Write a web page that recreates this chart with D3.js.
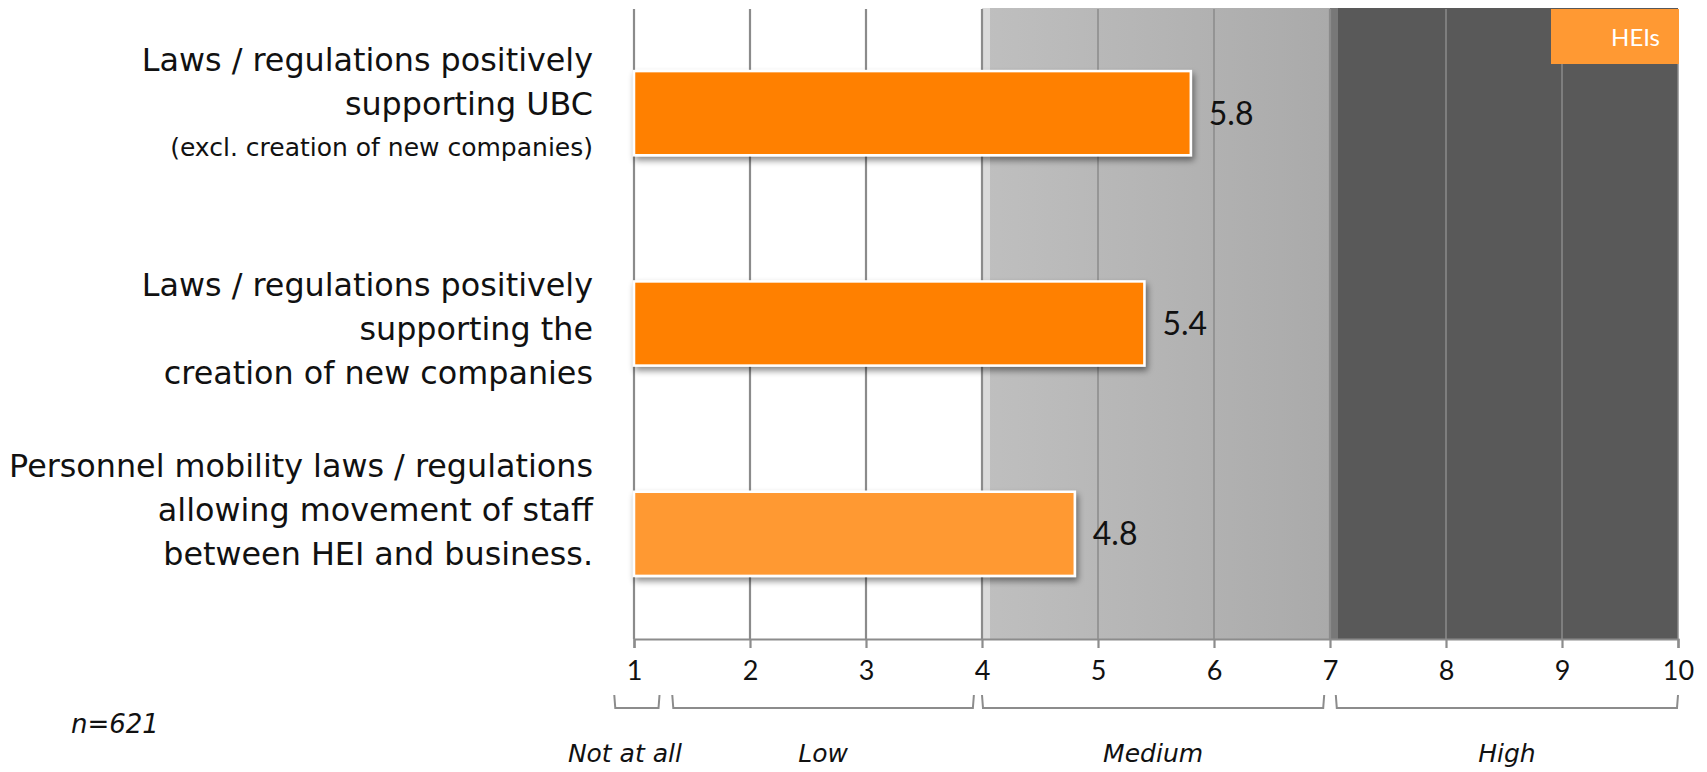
<!DOCTYPE html>
<html>
<head>
<meta charset="utf-8">
<script src="https://cdn.jsdelivr.net/npm/d3@7"></script>
<style>
  html, body { margin: 0; padding: 0; background: #fff; }
  svg { display: block; font-family: "DejaVu Sans", Lato, sans-serif; }
</style>
</head>
<body>
<svg id="chart" width="1707" height="772"></svg>
<script>
// ---- data ----
const categories = [
  "Laws / regulations positively supporting UBC (excl. creation of new companies)",
  "Laws / regulations positively supporting the creation of new companies",
  "Personnel mobility laws / regulations allowing movement of staff between HEI and business."
];
const labelLines = [
  ["Laws / regulations positively", "supporting UBC", "(excl. creation of new companies)"],
  ["Laws / regulations positively", "supporting the", "creation of new companies"],
  ["Personnel mobility laws / regulations", "allowing movement of staff", "between HEI and business."]
];
const values = [5.8, 5.4, 4.8];
const seriesName = "HEIs";
const tickValues = [1, 2, 3, 4, 5, 6, 7, 8, 9, 10];
const scaleGroups = ["Not at all", "Low", "Medium", "High"];
const groupStart = [0.83, 1.33, 4.0, 7.05];
const groupEnd = [1.22, 3.93, 6.95, 10.0];
const sampleNote = "n=621";

// ---- layout ----
const svg = d3.select("#chart");
const plot = { left: 634, right: 1678, top: 8, bottom: 639 };
const barColors = ["#ff8000", "#ff8000", "#ff9933"];
const labelShift = [-10, 5, -24];
const labelFont = "'DejaVu Sans', sans-serif";
const numFont = "Lato, sans-serif";

const x = d3.scaleLinear().domain([1, 10]).range([plot.left, plot.right]);
const y = d3.scaleBand().domain(categories).range([plot.top, plot.bottom]).paddingInner(0.6).paddingOuter(0.3);

const defs = svg.append("defs");
const grad = defs.append("linearGradient").attr("id", "medGrad").attr("x1", 0).attr("x2", 1).attr("y1", 0).attr("y2", 0);
grad.append("stop").attr("offset", "0%").attr("stop-color", "#bfbfbf");
grad.append("stop").attr("offset", "100%").attr("stop-color", "#aaaaaa");
const shadow = defs.append("filter").attr("id", "barShadow").attr("x", "-5%").attr("y", "-20%").attr("width", "115%").attr("height", "160%");
shadow.append("feDropShadow").attr("dx", 2).attr("dy", 4).attr("stdDeviation", 3).attr("flood-color", "#000").attr("flood-opacity", 0.45);

// ---- background zones: medium (4-7) and high (7-10) ----
const zoneG = svg.append("g");
zoneG.append("rect").attr("x", x(4)).attr("y", plot.top).attr("width", x(7) - x(4)).attr("height", plot.bottom - plot.top).attr("fill", "url(#medGrad)");
zoneG.append("rect").attr("x", x(4)).attr("y", plot.top).attr("width", 8).attr("height", plot.bottom - plot.top).attr("fill", "#dadada");
zoneG.append("rect").attr("x", x(7)).attr("y", plot.top).attr("width", x(10) - x(7)).attr("height", plot.bottom - plot.top).attr("fill", "#595959");
zoneG.append("rect").attr("x", x(7)).attr("y", plot.top).attr("width", 8).attr("height", plot.bottom - plot.top).attr("fill", "#787878");

// ---- vertical gridlines ----
svg.append("g").selectAll("line").data(tickValues).join("line")
  .attr("x1", d => x(d)).attr("x2", d => x(d))
  .attr("y1", plot.top + 1).attr("y2", plot.bottom)
  .attr("stroke", "#8b8b8b")
  .attr("stroke-width", d => (d > 4 && d < 7) || d > 7 ? 1.5 : 2.2);

// ---- x axis ----
const axis = d3.axisBottom(x).tickValues(tickValues).tickSize(9).tickPadding(13).tickFormat(d3.format("d"));
const axisG = svg.append("g").attr("transform", `translate(0,${plot.bottom})`).call(axis);
axisG.select(".domain").attr("stroke", "#8c8c8c").attr("stroke-width", 2.2);
axisG.selectAll(".tick line").attr("stroke", "#8c8c8c").attr("stroke-width", 2.2);
axisG.selectAll(".tick text").attr("font-size", 27).attr("fill", "#111").attr("font-family", numFont);

// ---- bars ----
svg.append("g").selectAll("rect").data(categories).join("rect")
  .attr("x", x(1))
  .attr("y", d => y(d))
  .attr("width", (d, i) => x(values[i]) - x(1))
  .attr("height", y.bandwidth())
  .attr("fill", (d, i) => barColors[i])
  .attr("stroke", "#ffffff").attr("stroke-width", 2.5)
  .attr("filter", "url(#barShadow)");

// ---- value labels ----
svg.append("g").selectAll("text").data(categories).join("text")
  .attr("x", (d, i) => x(values[i]) + 18)
  .attr("y", d => y(d) + y.bandwidth() / 2)
  .attr("dy", "0.36em")
  .attr("font-size", 32)
  .attr("font-family", numFont)
  .attr("fill", "#111")
  .text((d, i) => d3.format(".1f")(values[i]));

// ---- category labels ----
const lineH = 44;
const catG = svg.append("g").attr("font-family", labelFont);
categories.forEach((c, i) => {
  const lines = labelLines[i];
  const cy = y(c) + y.bandwidth() / 2 + labelShift[i];
  const t = catG.append("text").attr("text-anchor", "end").attr("fill", "#111");
  lines.forEach((ln, j) => {
    const small = i === 0 && j === lines.length - 1;
    t.append("tspan")
      .attr("x", 593)
      .attr("y", cy + (j - (lines.length - 1) / 2) * lineH)
      .attr("dy", "0.36em")
      .attr("font-size", small ? 25 : 31.8)
      .text(ln);
  });
});

// ---- legend ----
const leg = svg.append("g");
leg.append("rect").attr("x", 1551).attr("y", plot.top + 1).attr("width", x(10) - 1551 + 1).attr("height", 55).attr("fill", "#ff9933");
leg.append("text").attr("x", 1660).attr("y", plot.top + 29).attr("dy", "0.36em").attr("text-anchor", "end")
  .attr("font-family", numFont).attr("font-size", 24).attr("fill", "#fff").text(seriesName);

// ---- scale group brackets ----
const brG = svg.append("g");
const brTop = 695, brBot = 708;
scaleGroups.forEach((g, i) => {
  const a = x(groupStart[i]), b = x(groupEnd[i]);
  brG.append("path")
    .attr("d", `M${a},${brTop} L${a + 1},${brBot} L${b - 1},${brBot} L${b},${brTop}`)
    .attr("fill", "none").attr("stroke", "#8c8c8c").attr("stroke-width", 2);
  const cx = i === 0 ? (a + b) / 2 - 12 : (a + b) / 2;
  brG.append("text").attr("x", cx).attr("y", 753).attr("dy", "0.36em")
    .attr("text-anchor", "middle").attr("font-family", labelFont).attr("font-style", "italic")
    .attr("font-size", 25).attr("fill", "#111").text(g);
});

// ---- sample size note ----
svg.append("text").attr("x", 71).attr("y", 724).attr("dy", "0.36em")
  .attr("font-family", labelFont).attr("font-style", "italic").attr("font-size", 26).attr("fill", "#111").text(sampleNote);
</script>
</body>
</html>
